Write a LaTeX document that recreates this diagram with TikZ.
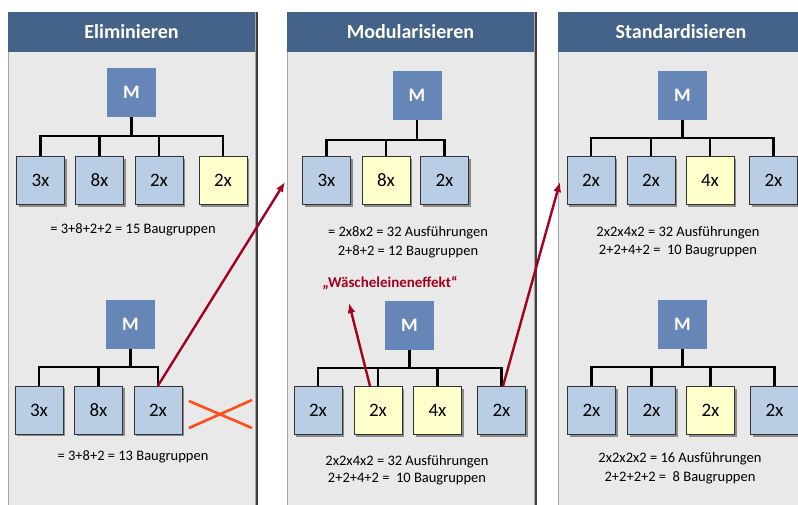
\documentclass[tikz,border=0pt]{standalone}
\usepackage{fontspec}
\setmainfont{Carlito}
\usetikzlibrary{shadows,arrows.meta}
\definecolor{hdrc}{HTML}{456389}
\definecolor{panelbg}{HTML}{E9E9E9}
\definecolor{mfill}{HTML}{6786B8}
\definecolor{bluebox}{HTML}{B9CDE5}
\definecolor{yelbox}{HTML}{FFFFCC}
\definecolor{arrowred}{HTML}{A50021}
\definecolor{xred}{HTML}{FF4D1A}
\tikzset{
  panel/.style={fill=panelbg, draw=gray!70, line width=0.8pt,
    drop shadow={shadow xshift=2.5pt, shadow yshift=0pt, fill=black!75, opacity=1}},
  hdr/.style={fill=hdrc, draw=none},
  hdrtext/.style={text=white, font=\fontsize{20}{24}\selectfont\bfseries},
  mbox/.style={fill=mfill, draw=none, minimum width=49pt, minimum height=49pt,
    inner sep=0pt, text=white, font=\fontsize{19}{22}\selectfont\bfseries},
  kid/.style={fill=bluebox, draw=black!80, line width=0.7pt, minimum width=48pt,
    minimum height=48pt, inner sep=0pt, font=\fontsize{19}{22}\selectfont,
    drop shadow={shadow xshift=2pt, shadow yshift=-2pt, fill=black!45, opacity=1}},
  kidy/.style={kid, fill=yelbox},
  tree/.style={line width=2.3pt, black},
  info/.style={font=\fontsize{14.5}{17}\selectfont, inner sep=0pt},
  redarrow/.style={line width=2.4pt, arrowred, -{Latex[length=10pt,width=8pt]}},
  xline/.style={line width=2.6pt, xred},
}
\begin{document}
\begin{tikzpicture}[x=1pt,y=-1pt]
\useasboundingbox (0,0) rectangle (798,504);
% panels
\path[panel] (8,12) rectangle (255,520);
\path[panel] (287,12) rectangle (534,520);
\path[panel] (558,12) rectangle (820,520);
\fill[hdrc] (8,12) rectangle (255,52);
\fill[hdrc] (287,12) rectangle (534,52);
\fill[hdrc] (558,12) rectangle (820,52);
\node[hdrtext] (h1) at (131.5,32) {Eliminieren};
\node[hdrtext] (h2) at (410.5,32) {Modularisieren};
\node[hdrtext] (h3) at (681,32) {Standardisieren};

% ---- Panel 1 top
\node[mbox] (m1) at (131.5,92.5) {M};
\node[kid] (a1) at (40.5,180.5) {3x};
\node[kid] (a2) at (99.5,180.5) {8x};
\node[kid] (a3) at (159,180.5) {2x};
\node[kidy] (a4) at (223,180.5) {2x};
\foreach \k in {a1,a2,a3,a4} \draw[tree] (m1.south) -- ++(0,19) -| (\k.north);
\node[info] (t1) at (133,230) {= 3+8+2+2 = 15 Baugruppen};

% ---- Panel 1 bottom
\node[mbox] (m2) at (130.5,324.5) {M};
\node[kid] (b1) at (39,410) {3x};
\node[kid] (b2) at (98.5,410) {8x};
\node[kid] (b3) at (158,410) {2x};
\foreach \k in {b1,b2,b3} \draw[tree] (m2.south) -- ++(0,18) -| (\k.north);
\node[info] (t2) at (133,457) {= 3+8+2 = 13 Baugruppen};
\coordinate (x1) at (189,401);
\coordinate (x2) at (252,428);
\coordinate (x3) at (189,428);
\coordinate (x4) at (252,400);
\draw[xline] (x1) -- (x2);
\draw[xline] (x3) -- (x4);

% ---- Panel 2 top
\node[mbox] (m3) at (417,95) {M};
\node[kid] (c1) at (326.5,180.5) {3x};
\node[kidy] (c2) at (386,180.5) {8x};
\node[kid] (c3) at (444.5,180.5) {2x};
\foreach \k in {c1,c2,c3} \draw[tree] (m3.south) -- ++(0,20) -| (\k.north);
\node[info] (t3) at (408,233) {= 2x8x2 = 32 Ausführungen};
\node[info] (t4) at (408,252) {2+8+2 = 12 Baugruppen};

% ---- Panel 2 bottom
\node[font=\fontsize{15}{18}\selectfont\bfseries, text=arrowred, inner sep=0pt] (w) at (390,283) {„Wäscheleineneffekt“};
\node[mbox] (m4) at (409.5,325.5) {M};
\node[kid] (d1) at (318,410.5) {2x};
\node[kidy] (d2) at (378,410.5) {2x};
\node[kidy] (d3) at (437.5,410.5) {4x};
\node[kid] (d4) at (501.5,410.5) {2x};
\foreach \k in {d1,d2,d3,d4} \draw[tree] (m4.south) -- ++(0,18) -| (\k.north);
\node[info] (t5) at (407,462) {2x2x4x2 = 32 Ausführungen};
\node[info] (t6) at (407,479) {2+2+4+2 =\ \ 10 Baugruppen};

% ---- Panel 3 top
\node[mbox] (m5) at (682.5,95) {M};
\node[kid] (e1) at (591,180.5) {2x};
\node[kid] (e2) at (651,180.5) {2x};
\node[kidy] (e3) at (710,180.5) {4x};
\node[kid] (e4) at (773.5,180.5) {2x};
\foreach \k in {e1,e2,e3,e4} \draw[tree] (m5.south) -- ++(0,18) -| (\k.north);
\node[info] (t7) at (678,233) {2x2x4x2 = 32 Ausführungen};
\node[info] (t8) at (678,251) {2+2+4+2 =\ \ 10 Baugruppen};

% ---- Panel 3 bottom
\node[mbox] (m6) at (682.5,324.5) {M};
\node[kid] (f1) at (591.5,410.5) {2x};
\node[kid] (f2) at (651.5,410.5) {2x};
\node[kidy] (f3) at (710.5,410.5) {2x};
\node[kid] (f4) at (774.5,410.5) {2x};
\foreach \k in {f1,f2,f3,f4} \draw[tree] (m6.south) -- ++(0,18) -| (\k.north);
\node[info] (t9) at (680,459) {2x2x2x2 = 16 Ausführungen};
\node[info] (t10) at (680,478) {2+2+2+2 =\ \ 8 Baugruppen};

% ---- arrows
\coordinate (p1) at (285,182);
\coordinate (p2) at (349,303);
\coordinate (p3) at (560,182);
\draw[redarrow] (b3.north) -- (p1);
\draw[redarrow] ([xshift=-8pt]d2.north) -- (p2);
\draw[redarrow] ([xshift=1.5pt]d4.north) -- (p3);
\end{tikzpicture}
\end{document}
